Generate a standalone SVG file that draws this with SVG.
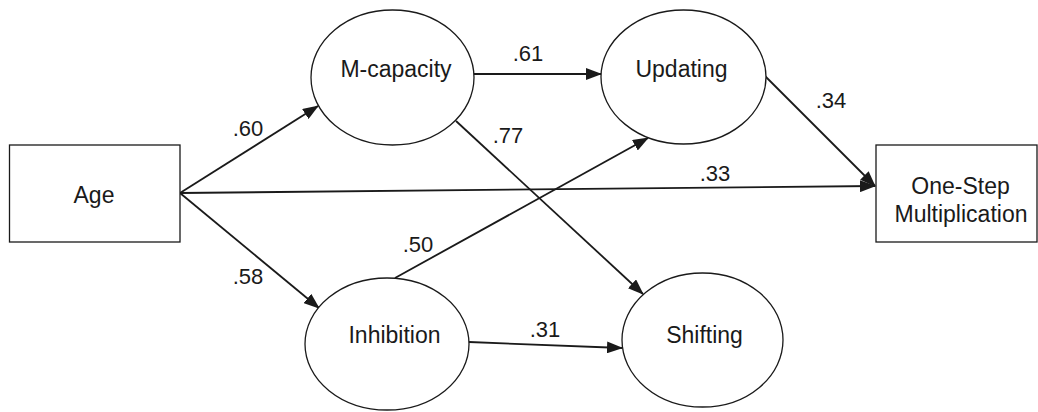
<svg xmlns="http://www.w3.org/2000/svg" width="1038" height="412" viewBox="0 0 1038 412">
  <style>
    .box { fill: #ffffff; stroke: #1a1a1a; stroke-width: 1.3; }
    .latent { fill: #ffffff; stroke: #1a1a1a; stroke-width: 1.3; }
    .lbl { font-family: "Liberation Sans", Arial, sans-serif; font-size: 23px; fill: #1a1a1a; text-anchor: middle; }
    .coef { font-family: "Liberation Sans", Arial, sans-serif; font-size: 22px; fill: #1a1a1a; text-anchor: middle; }
    .path { fill: none; stroke: #1a1a1a; stroke-width: 1.8; marker-end: url(#arrow); }
  </style>
  <defs>
    <marker id="arrow" markerUnits="userSpaceOnUse" markerWidth="16" markerHeight="12" viewBox="0 0 16 12" refX="15" refY="6" orient="auto">
      <path d="M0,0 L16,6 L0,12 Z" fill="#1a1a1a"/>
    </marker>
  </defs>
  <rect width="1038" height="412" fill="#ffffff"/>

  <!-- structural paths -->
  <g id="connectors">
    <line class="path" x1="180" y1="193" x2="318" y2="106"/>
    <line class="path" x1="180" y1="193" x2="319" y2="308"/>
    <line class="path" x1="180" y1="193" x2="875" y2="186"/>
    <line class="path" x1="474" y1="74" x2="601" y2="74"/>
    <line class="path" x1="456" y1="121" x2="643" y2="294"/>
    <line class="path" x1="395" y1="278" x2="648" y2="138"/>
    <line class="path" x1="469" y1="342" x2="622" y2="348"/>
    <line class="path" x1="765" y1="76" x2="875" y2="186"/>
    <text class="coef" x="248" y="136">.60</text>
    <text class="coef" x="248" y="284">.58</text>
    <text class="coef" x="528" y="61">.61</text>
    <text class="coef" x="508" y="143">.77</text>
    <text class="coef" x="715" y="181">.33</text>
    <text class="coef" x="831" y="108">.34</text>
    <text class="coef" x="418" y="252">.50</text>
    <text class="coef" x="545" y="337">.31</text>
  </g>

  <g id="age">
    <rect class="box" x="9.5" y="145" width="170.5" height="97"/>
    <text class="lbl" x="94" y="203">Age</text>
  </g>

  <g id="m-capacity">
    <ellipse class="latent" cx="392.5" cy="77.5" rx="81.5" ry="67.5"/>
    <text class="lbl" x="396" y="77">M-capacity</text>
  </g>

  <g id="updating">
    <ellipse class="latent" cx="683.5" cy="77" rx="82.5" ry="67"/>
    <text class="lbl" x="681.5" y="77">Updating</text>
  </g>

  <g id="inhibition">
    <ellipse class="latent" cx="387" cy="344" rx="82" ry="66"/>
    <text class="lbl" x="394.5" y="343">Inhibition</text>
  </g>

  <g id="shifting">
    <ellipse class="latent" cx="702.5" cy="340" rx="80.5" ry="67"/>
    <text class="lbl" x="704.5" y="343">Shifting</text>
  </g>

  <g id="one-step-multiplication">
    <rect class="box" x="876" y="145" width="161" height="97"/>
    <text class="lbl" x="960.5" y="194">One-Step</text>
    <text class="lbl" x="961" y="222">Multiplication</text>
  </g>
</svg>
